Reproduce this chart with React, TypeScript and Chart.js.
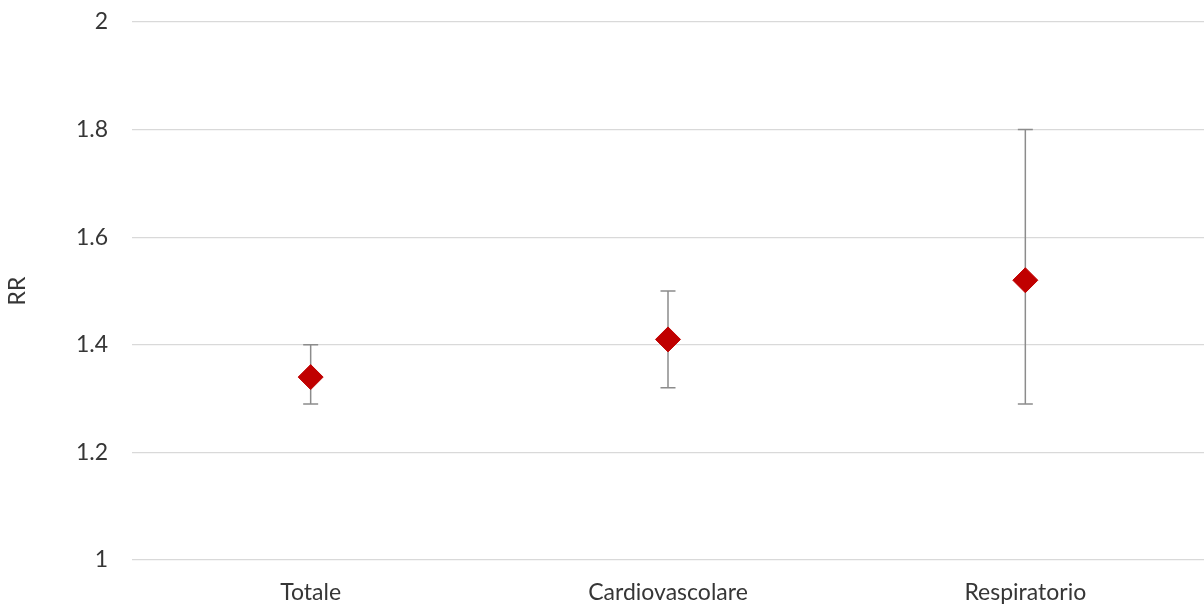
import React, { useEffect, useRef } from "react";
import { Chart, registerables } from "chart.js";

Chart.register(...registerables);

const categories = ["Totale", "Cardiovascolare", "Respiratorio"];
const rrValues = [1.34, 1.41, 1.52];
const lowerCI = [1.29, 1.32, 1.29];
const upperCI = [1.4, 1.5, 1.8];
const yTicks = [1, 1.2, 1.4, 1.6, 1.8, 2];

const FONT = "Lato, 'Open Sans', sans-serif";
const TEXT = "#363636";
const FS = 23;

const errorBarPlugin = {
  id: "errorBars",
  beforeDatasetsDraw(chart: any) {
    const { ctx, scales } = chart;
    const x = scales.x;
    const y = scales.y;
    ctx.save();
    ctx.strokeStyle = "#8c8c8c";
    ctx.lineWidth = 1.5;
    categories.forEach((c, i) => {
      const px = x.getPixelForValue(i);
      const yl = y.getPixelForValue(lowerCI[i]);
      const yu = y.getPixelForValue(upperCI[i]);
      ctx.beginPath();
      ctx.moveTo(px, yl);
      ctx.lineTo(px, yu);
      ctx.moveTo(px - 7.5, yl);
      ctx.lineTo(px + 7.5, yl);
      ctx.moveTo(px - 7.5, yu);
      ctx.lineTo(px + 7.5, yu);
      ctx.stroke();
    });
    ctx.restore();
  },
};

export default function App() {
  const ref = useRef<HTMLCanvasElement>(null);
  useEffect(() => {
    document.body.style.margin = "0";
    const chart = new Chart(ref.current!, {
      type: "line",
      data: {
        labels: categories,
        datasets: [
          {
            label: "RR",
            data: rrValues,
            showLine: false,
            pointStyle: "rectRot",
            pointRadius: 12.5,
            pointBackgroundColor: "#C00000",
            pointBorderColor: "#C00000",
            pointBorderWidth: 1,
            clip: false,
          },
        ],
      },
      options: {
        animation: false,
        responsive: false,
        layout: { autoPadding: false, padding: { top: 22, right: 0, left: 0, bottom: 0 } },
        plugins: { legend: { display: false }, tooltip: { enabled: false } },
        scales: {
          x: {
            type: "category",
            offset: true,
            grid: { display: false, drawTicks: false },
            border: { display: false },
            ticks: { color: TEXT, font: { family: FONT, size: FS }, padding: 19, maxRotation: 0 },
            afterFit(s: any) {
              s.height = 53;
              s.paddingLeft = 0;
              s.paddingRight = 0;
            },
          },
          y: {
            min: 1,
            max: 2,
            afterBuildTicks(s: any) {
              s.ticks = yTicks.map((v) => ({ value: v }));
            },
            grid: { color: "#d9d9d9", lineWidth: 1.3, drawTicks: false },
            border: { display: false },
            ticks: {
              color: TEXT,
              font: { family: FONT, size: FS },
              padding: 24,
              callback: (v: any) => String(v),
            },
            title: {
              display: true,
              text: "RR",
              color: TEXT,
              font: { family: FONT, size: FS },
              padding: { top: 4, bottom: 0 },
            },
            afterFit(s: any) {
              s.width = 132;
              s.paddingTop = 0;
              s.paddingBottom = 0;
            },
          },
        },
      },
      plugins: [errorBarPlugin],
    });
    return () => chart.destroy();
  }, []);
  return (
    <div style={{ width: 1204, height: 613 }}>
      <canvas ref={ref} width={1204} height={613} style={{ display: "block" }} />
    </div>
  );
}
